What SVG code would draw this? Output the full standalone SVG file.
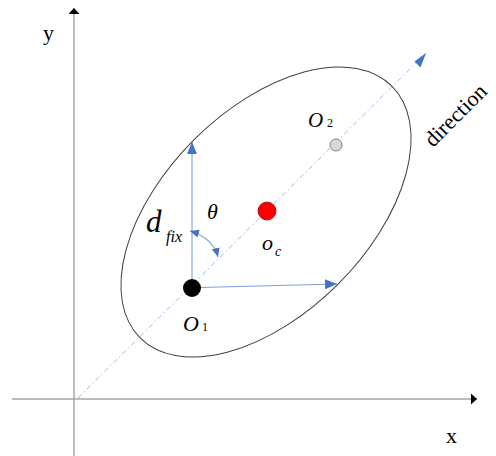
<svg xmlns="http://www.w3.org/2000/svg" width="496" height="456" viewBox="0 0 496 456">
<style>
.axis{stroke:#a6a6a6;stroke-width:1.5;fill:none}
.blue{stroke:#7fa0d8;stroke-width:1.1;fill:none}
.dir{stroke:#9dbbe3;stroke-width:1;fill:none;stroke-dasharray:5 3 1.5 3}
.t{fill:#000}
.it{font-style:italic}
</style>
<defs>
<marker id="axarr" viewBox="0 0 6 11" refX="6" refY="5.5" markerWidth="6" markerHeight="11" markerUnits="userSpaceOnUse" orient="auto">
<path d="M0,0 L6,5.5 L0,11 z" fill="#000"/>
</marker>
<marker id="arr" viewBox="0 0 12 10" refX="12" refY="5" markerWidth="12" markerHeight="10" markerUnits="userSpaceOnUse" orient="auto">
<path d="M0,0 L12,5 L0,10 z" fill="#4472c4"/>
</marker>
<marker id="arrS" viewBox="0 0 9 8" refX="9" refY="4" markerWidth="9" markerHeight="8" markerUnits="userSpaceOnUse" orient="auto-start-reverse">
<path d="M0,0 L9,4 L0,8 z" fill="#4472c4"/>
</marker>
</defs>
<g id="connectors">
<line id="y-axis" class="axis" x1="74" y1="456" x2="74" y2="8" marker-end="url(#axarr)"/>
<line id="x-axis" class="axis" x1="12" y1="399" x2="477" y2="399" marker-end="url(#axarr)"/>
<line id="direction-line" class="dir" x1="78" y1="398" x2="426" y2="53"/>
<path d="M414.5,61.5 L426,53 L420.5,67.5 z" fill="#4472c4"/>
<line id="vertical-arrow" class="blue" x1="192" y1="288" x2="192" y2="142" marker-end="url(#arr)"/>
<line id="horizontal-arrow" class="blue" x1="200" y1="287.5" x2="337" y2="284" marker-end="url(#arr)"/>
<path id="angle-arc" class="blue" d="M190,231 Q213,238 218,257" marker-start="url(#arrS)" marker-end="url(#arrS)"/>
</g>
<g id="ellipse">
<ellipse cx="266" cy="212" rx="178" ry="102" transform="rotate(-45 266 212)" fill="none" stroke="#404040" stroke-width="1"/>
</g>
<g font-family="'Liberation Serif', 'Times New Roman', 'DejaVu Serif', serif">
<g id="node-O1">
<circle cx="192" cy="288" r="9" fill="#000"/>
<text class="t it" x="183" y="331" font-size="22">O</text>
<text class="t" x="202" y="331" font-size="12">1</text>
</g>
<g id="node-Oc">
<circle cx="267" cy="211" r="9" fill="#ff0000" stroke="#a00000" stroke-width="0.8"/>
<text class="t it" x="262" y="250" font-size="22">o</text>
<text class="t it" x="275" y="256" font-size="14">c</text>
</g>
<g id="node-O2">
<circle cx="336" cy="145" r="6" fill="#d9d9d9" stroke="#808080" stroke-width="1"/>
<text class="t it" x="308" y="127" font-size="21">O</text>
<text class="t" x="327" y="127" font-size="12">2</text>
</g>
<g id="labels">
<text class="t" x="43" y="40" font-size="22">y</text>
<text class="t" x="446" y="443" font-size="22">x</text>
<text class="t" x="433" y="148" font-size="22" transform="rotate(-45 433 148)">direction</text>
<text class="t it" x="146" y="232" font-size="31">d</text>
<text class="t it" x="166" y="242" font-size="16">fix</text>
<text class="t it" x="207" y="219" font-size="22">θ</text>
</g>
</g>
</svg>
